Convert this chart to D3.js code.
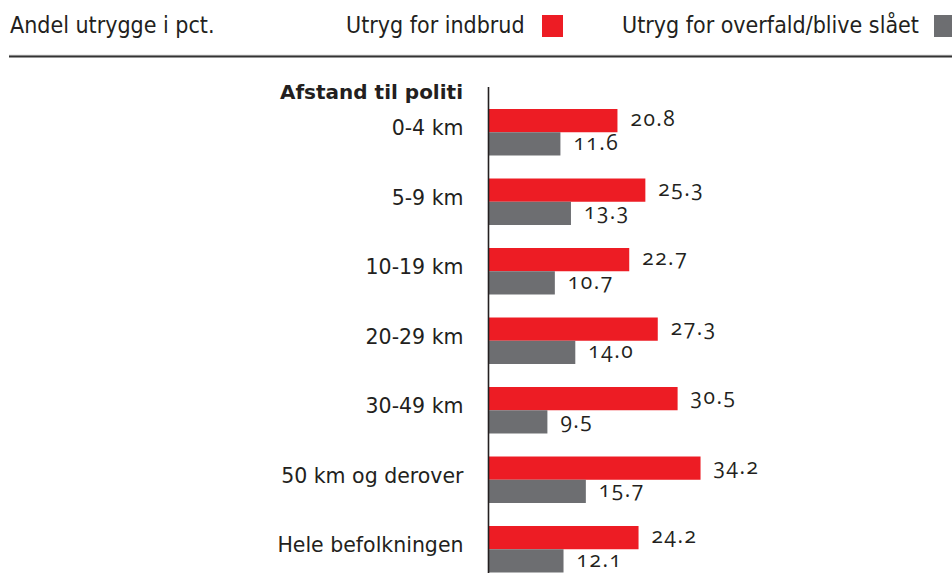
<!DOCTYPE html>
<html>
<head>
<meta charset="utf-8">
<script src="https://cdn.jsdelivr.net/npm/d3@7"></script>
<style>
  html, body { margin: 0; padding: 0; background: #fff; }
  svg { display: block; }
  .hdr { font-family: "Liberation Sans Narrow", "Arial Narrow", "DejaVu Sans Condensed", sans-serif; font-size: 23px; fill: #231f20; }
  .cat { font-family: "DejaVu Sans", sans-serif; font-size: 20.5px; fill: #231f20; }
  .head { font-family: "DejaVu Sans", sans-serif; font-size: 20px; font-weight: bold; fill: #231f20; }
  .val { font-family: "Open Sans", sans-serif; font-size: 21px; font-weight: 500; fill: #231f20; letter-spacing: 1.5px; font-variant-numeric: oldstyle-nums; }
</style>
</head>
<body>
<svg id="chart" width="952" height="586"></svg>
<script>
// Share of people feeling unsafe (pct.), by distance to police
const categories = ["0-4 km", "5-9 km", "10-19 km", "20-29 km", "30-49 km", "50 km og derover", "Hele befolkningen"];
const seriesNames = ["Utryg for indbrud", "Utryg for overfald/blive slået"];
const burglary = [20.8, 25.3, 22.7, 27.3, 30.5, 34.2, 24.2];
const assault = [11.6, 13.3, 10.7, 14.0, 9.5, 15.7, 12.1];
const colors = ["#ed1c24", "#6d6e71"];

const svg = d3.select("#chart");
const axisX = 488.5;

const x = d3.scaleLinear().domain([0, 40]).range([axisX, axisX + 248]);
const y = d3.scaleBand().domain(categories).range([97.5, 584]).paddingInner(0.331).paddingOuter(0.1655);
const ySub = d3.scaleBand().domain([0, 1]).range([0, y.bandwidth()]);

// Header: title and legend
svg.append("text").attr("class", "hdr").attr("x", 10).attr("y", 33).text("Andel utrygge i pct.");
const legendX = [346, 622];
const swatchX = [542, 934];
seriesNames.forEach((name, i) => {
  svg.append("text").attr("class", "hdr").attr("x", legendX[i]).attr("y", 33).text(name);
  svg.append("rect").attr("x", swatchX[i]).attr("y", 15).attr("width", 21).attr("height", 22).attr("fill", colors[i]);
});

// Rule under the header
svg.append("line").attr("x1", 9).attr("x2", 952).attr("y1", 55.2).attr("y2", 55.2).attr("stroke", "#c8c8c8").attr("stroke-width", 1);
svg.append("line").attr("x1", 9).attr("x2", 952).attr("y1", 56.5).attr("y2", 56.5).attr("stroke", "#333333").attr("stroke-width", 2);

// Category axis (labels only)
const yAxis = d3.axisLeft(y).tickSize(0).tickPadding(25);
const gAxis = svg.append("g").attr("transform", `translate(${axisX},0)`).call(yAxis);
gAxis.select(".domain").remove();
gAxis.selectAll("text").attr("class", "cat").attr("font-family", null).attr("font-size", null).attr("dy", "0.15em");

// Axis heading
svg.append("text").attr("class", "head").attr("x", 463).attr("y", 99).attr("text-anchor", "end")
  .text("Afstand til politi");

// Bars
const rows = categories.map((c, i) => ({ cat: c, vals: [burglary[i], assault[i]] }));
const groups = svg.append("g").selectAll("g").data(rows).join("g")
  .attr("transform", d => `translate(0,${y(d.cat)})`);

groups.selectAll("rect").data(d => d.vals.map((v, k) => ({ v, k }))).join("rect")
  .attr("x", x(0))
  .attr("y", d => ySub(d.k))
  .attr("width", d => x(d.v) - x(0))
  .attr("height", ySub.bandwidth())
  .attr("fill", d => colors[d.k]);

groups.selectAll("text").data(d => d.vals.map((v, k) => ({ v, k }))).join("text")
  .attr("class", "val")
  .attr("x", d => x(d.v) + 13)
  .attr("y", d => ySub(d.k) + ySub.bandwidth() / 2)
  .attr("dy", "0.27em")
  .text(d => d.v.toFixed(1));

// Vertical axis line
svg.append("line").attr("x1", axisX).attr("x2", axisX).attr("y1", 87).attr("y2", 573)
  .attr("stroke", "#231f20").attr("stroke-width", 1.6);
</script>
</body>
</html>
